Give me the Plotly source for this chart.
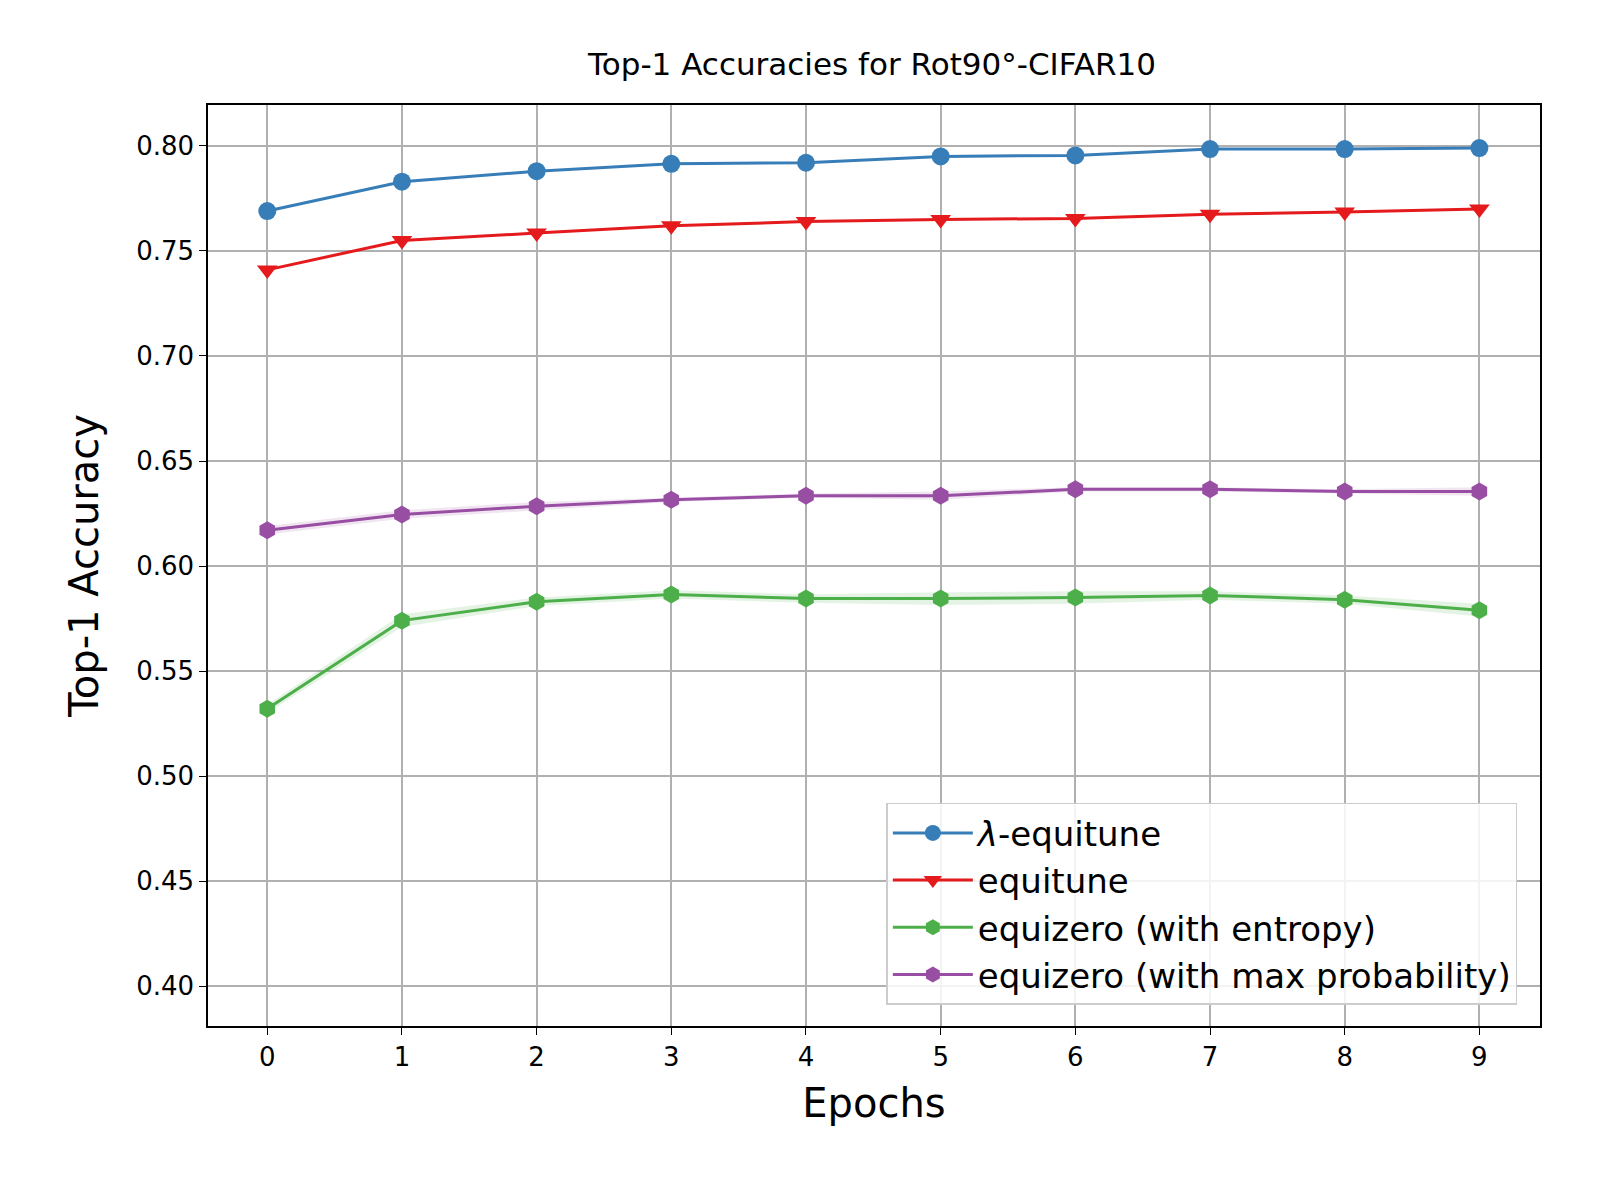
import plotly.graph_objects as go

epochs = list(range(10))
lam_equitune = [0.769, 0.783, 0.788, 0.7915, 0.792, 0.795, 0.7955, 0.7985, 0.7985, 0.799]
equitune = [0.741, 0.755, 0.7585, 0.762, 0.764, 0.765, 0.7655, 0.7675, 0.7685, 0.770]
eqz_entropy = [0.532, 0.574, 0.583, 0.5865, 0.5845, 0.5845, 0.585, 0.586, 0.584, 0.579]
eqz_entropy_std = [0.002, 0.003, 0.002, 0.002, 0.002, 0.003, 0.003, 0.002, 0.002, 0.003]
eqz_maxprob = [0.617, 0.6245, 0.6285, 0.6315, 0.6335, 0.6335, 0.6365, 0.6365, 0.6355, 0.6355]
eqz_maxprob_std = [0.002, 0.002, 0.002, 0.001, 0.001, 0.002, 0.001, 0.001, 0.001, 0.002]

fig = go.Figure()


def band(y, s, color):
    fig.add_trace(go.Scatter(x=epochs + epochs[::-1],
                             y=[a + b for a, b in zip(y, s)] + [a - b for a, b in zip(y, s)][::-1],
                             fill="toself", fillcolor=color, line=dict(width=0),
                             showlegend=False, hoverinfo="skip"))


band(eqz_entropy, eqz_entropy_std, "rgba(77,175,74,0.15)")
band(eqz_maxprob, eqz_maxprob_std, "rgba(152,78,163,0.15)")

series = [
    ("<i>λ</i>-equitune", lam_equitune, "#377eb8", "circle"),
    ("equitune", equitune, "#e41a1c", "triangle-down"),
    ("equizero (with entropy)", eqz_entropy, "#4daf4a", "hexagon"),
    ("equizero (with max probability)", eqz_maxprob, "#984ea3", "hexagon"),
]
for name, y, c, sym in series:
    fig.add_trace(go.Scatter(x=epochs, y=y, name=name, mode="lines+markers",
                             line=dict(color=c, width=3),
                             marker=dict(symbol=sym, size=18, color=c)))

axis = dict(showgrid=True, gridcolor="#b0b0b0", gridwidth=1.5, showline=True,
            linecolor="black", linewidth=1.5, mirror=True, ticks="outside",
            ticklen=7, tickcolor="black", zeroline=False,
            tickfont=dict(size=26, color="black"))
fig.update_layout(
    width=1600, height=1200, plot_bgcolor="white", paper_bgcolor="white",
    font=dict(family="DejaVu Sans", color="black"),
    margin=dict(l=200, r=68, t=97, b=182),
    title=dict(text="Top-1 Accuracies for Rot90°-CIFAR10", x=0.54, xanchor="center",
               y=0.953, yanchor="middle", font=dict(size=31)),
    xaxis=dict(axis, range=[-0.44, 9.45], tickvals=epochs,
               title=dict(text="Epochs", font=dict(size=40), standoff=18)),
    yaxis=dict(axis, range=[0.381, 0.8195], dtick=0.05, tickformat=".2f",
               title=dict(text="Top-1 Accuracy", font=dict(size=40), standoff=25)),
    legend=dict(x=0.983, y=0.023, xanchor="right", yanchor="bottom",
                bgcolor="rgba(255,255,255,0.85)", bordercolor="#cccccc", borderwidth=1.5,
                font=dict(size=34), itemwidth=80, tracegroupgap=20),
)
fig.write_html("out.html")
